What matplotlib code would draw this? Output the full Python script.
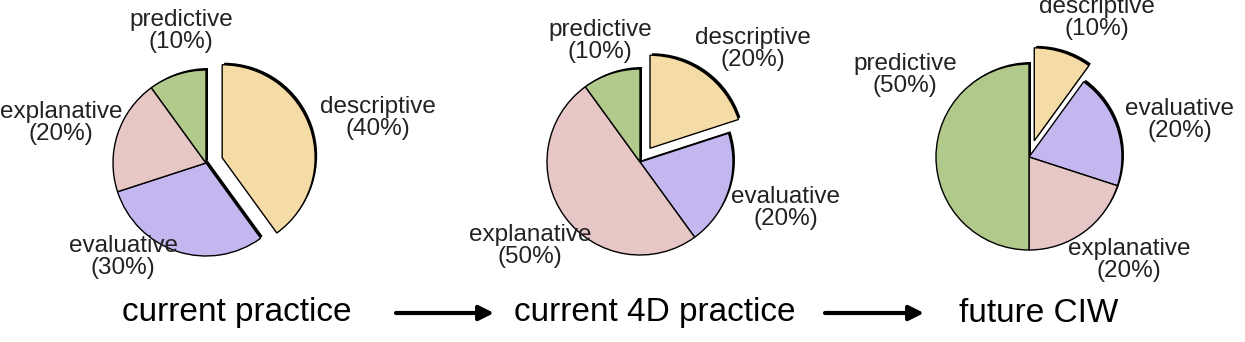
import matplotlib
matplotlib.use("Agg")
import matplotlib.pyplot as plt

# data
categories = ["descriptive", "evaluative", "explanative", "predictive"]
current_practice = [40, 30, 20, 10]
current_4d = [20, 20, 50, 10]
future_ciw = [10, 20, 20, 50]
titles = ["current practice", "current 4D practice", "future CIW"]
colors = ["#F5DCA6", "#C4B7EF", "#E7C7C6", "#B1C98B"]

W, H = 1245, 342

# layout (pixel coords, y from top)
pie_centers = [(206, 163), (640, 162), (1029, 157)]
pie_radius = 93
label_pos = [
    [(378, 118), (123, 257), (61, 123), (181, 31)],
    [(753, 49), (786, 208), (530, 246), (600, 41)],
    [(1097, 18), (1180, 120), (1129, 260), (905, 75)],
]
title_pos = [(237, 313), (655, 313), (1039, 313)]
arrows = [(396, 494), (825, 924)]

plt.rcParams['font.family'] = ['Liberation Sans', 'DejaVu Sans']
fig = plt.figure(figsize=(W / 100, H / 100), dpi=100)
ax = fig.add_axes([0, 0, 1, 1])

all_data = [current_practice, current_4d, future_ciw]
for k, vals in enumerate(all_data):
    cx, cy = pie_centers[k]
    cy = H - cy
    explode = [17, 0, 0, 0]   # pie() uses data units for explode
    # black shadow offset up-right
    ax.pie(vals, explode=explode, colors=['black'] * 4, startangle=90,
           counterclock=False, radius=pie_radius, center=(cx + 2, cy + 2),
           wedgeprops=dict(linewidth=0), frame=True)
    ax.pie(vals, explode=explode, colors=colors, startangle=90,
           counterclock=False, radius=pie_radius, center=(cx, cy),
           wedgeprops=dict(edgecolor='black', linewidth=1.0), frame=True)
    for j, name in enumerate(categories):
        lx, ly = label_pos[k][j]
        ax.text(lx, H - ly, "%s\n(%d%%)" % (name, vals[j]), ha='center', va='center',
                fontsize=17.5, linespacing=0.98, color='#222222')
    tx, ty = title_pos[k]
    ax.text(tx, H - ty, titles[k], ha='center', va='center', fontsize=24, color='black')

for x0, x1 in arrows:
    ax.annotate("", xy=(x1, H - 313), xytext=(x0, H - 313),
                arrowprops=dict(arrowstyle='-|>', color='black', lw=3, mutation_scale=22,
                                shrinkA=0, shrinkB=0))

ax.set_xlim(0, W)
ax.set_ylim(0, H)
ax.set_aspect('equal')
ax.axis('off')
fig.savefig("out.png", dpi=100)
